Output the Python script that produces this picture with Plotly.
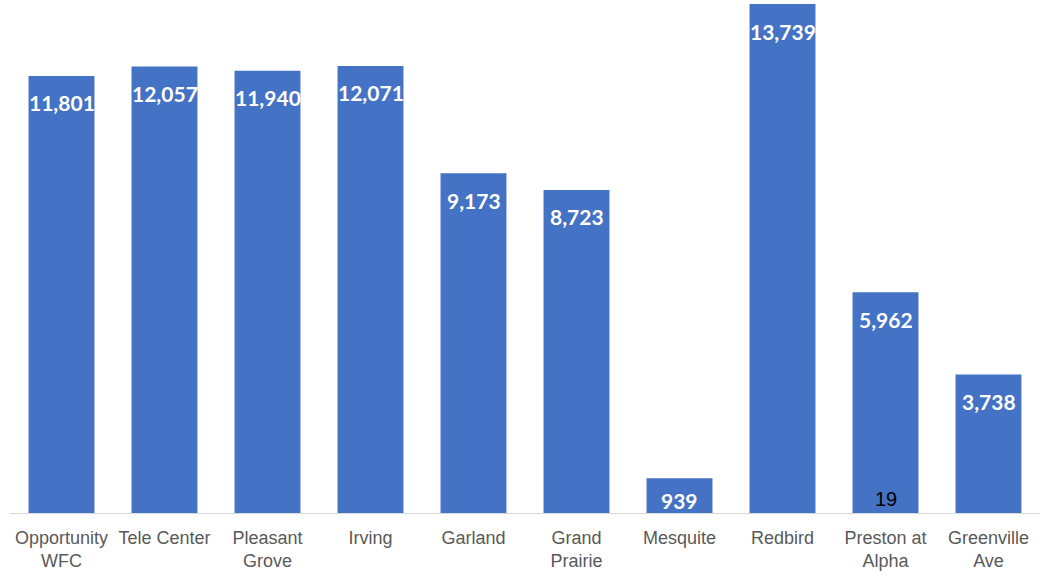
import plotly.graph_objects as go

categories = ["Opportunity<br>WFC", "Tele Center", "Pleasant<br>Grove", "Irving", "Garland",
              "Grand<br>Prairie", "Mesquite", "Redbird", "Preston at<br>Alpha", "Greenville<br>Ave"]
values = [11801, 12057, 11940, 12071, 9173, 8723, 939, 13739, 5962, 3738]
extra_category = "Preston at<br>Alpha"
extra_value = 19

Y_MAX = 13850
MARGIN = dict(l=10, r=8, t=0, b=63)
HEIGHT = 576
px_per_unit = (HEIGHT - MARGIN["t"] - MARGIN["b"]) / Y_MAX

fig = go.Figure()
fig.add_trace(go.Bar(
    x=categories, y=values,
    marker=dict(color="#4472C4", line=dict(width=0)),
    hoverinfo="x+y",
))
for c, v in zip(categories, values):
    shift = min(27, v * px_per_unit - 13)
    fig.add_annotation(x=c, y=v, text=f"{v:,}", showarrow=False,
                       yanchor="middle", yshift=-shift,
                       font=dict(family="Lato, Open Sans, sans-serif", size=21,
                                 color="white", weight="bold"))
fig.add_annotation(x=extra_category, y=0, text=str(extra_value), showarrow=False,
                   yanchor="bottom", yshift=1,
                   font=dict(family="Liberation Sans, Arial, sans-serif", size=20, color="black"))

fig.update_layout(
    width=1048, height=HEIGHT,
    margin=MARGIN,
    paper_bgcolor="white", plot_bgcolor="white",
    bargap=0.36, showlegend=False,
    xaxis=dict(showline=True, linecolor="#D9D9D9", linewidth=1, ticks="",
               ticklabelstandoff=8,
               tickfont=dict(family="Liberation Sans Narrow, Arial Narrow, Liberation Sans, sans-serif",
                             size=18, color="#595959")),
    yaxis=dict(range=[0, Y_MAX], visible=False, showgrid=False),
)
fig.write_html("out.html", config={"displayModeBar": False},
               post_script="document.body.style.margin='0';")
